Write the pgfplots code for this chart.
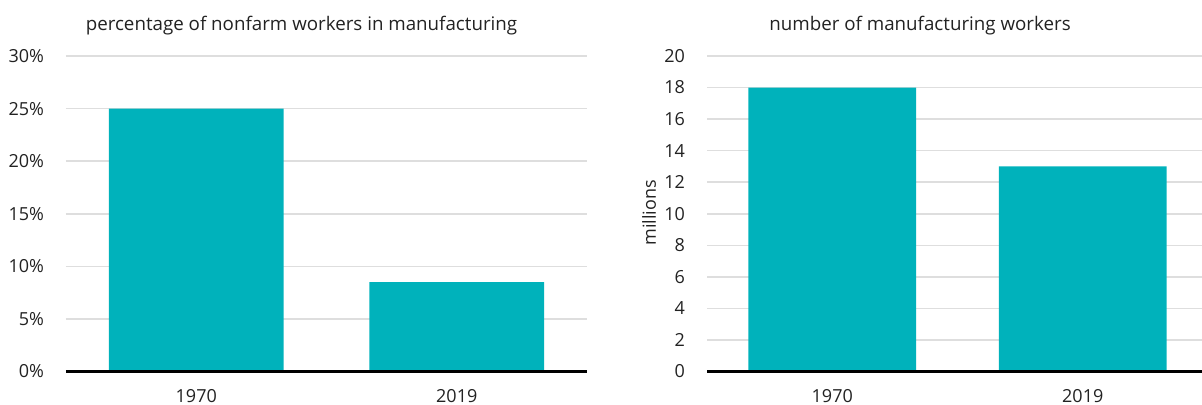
\documentclass[border=0pt]{standalone}
\usepackage{pgfplots}
\pgfplotsset{compat=1.18}
\usepackage{fontspec}
\setmainfont{Open Sans}
\definecolor{barc}{HTML}{00B2BB}
\definecolor{txt}{HTML}{222222}
\definecolor{gridc}{HTML}{DEDEDE}
\begin{document}
\begin{tikzpicture}[x=1pt,y=1pt]
\useasboundingbox (0,0) rectangle (601,202);
\pgfplotsset{
  mystyle/.style={
    scale only axis,
    height=157.75pt,
    ybar,
    bar width=0.67,
    ymin=0,
    xmin=-0.5,
    xtick={0,1}, xticklabels={1970,2019},
    axis line style={draw=none},
    major tick length=0pt,
    ymajorgrids,
    grid style={gridc, line width=0.8pt},
    tick label style={text=txt, font=\fontsize{9}{11}\selectfont},
    yticklabel style={anchor=east, xshift=-7.5pt},
    xticklabel style={anchor=north, yshift=-5.25pt},
    clip=false,
  }
}
% left chart
\begin{axis}[mystyle,
  at={(33pt,16.25pt)}, anchor=south west,
  width=260.5pt, xmax=1.5,
  ymax=30, ytick={0,5,10,15,20,25,30},
  yticklabels={0\%,5\%,10\%,15\%,20\%,25\%,30\%}]
\addplot[fill=barc, draw=none] coordinates {(0,25) (1,8.5)};
\draw[black, line width=1.5pt] (rel axis cs:0,0) -- (rel axis cs:1,0);
\end{axis}
% right chart
\begin{axis}[mystyle,
  at={(353.5pt,16.25pt)}, anchor=south west,
  width=247.5pt, xmax=1.476,
  ymax=20, ytick={0,2,4,6,8,10,12,14,16,18,20},
  yticklabels={0,2,4,6,8,10,12,14,16,18,20}]
\addplot[fill=barc, draw=none] coordinates {(0,18) (1,13)};
\draw[black, line width=1.5pt] (rel axis cs:0,0) -- (rel axis cs:1,0);
\end{axis}
\node[anchor=base, text=txt, font=\fontsize{9.37}{11}\selectfont] at (150.75,187) {percentage of nonfarm workers in manufacturing};
\node[anchor=base, text=txt, font=\fontsize{9.37}{11}\selectfont] at (460,187) {number of manufacturing workers};
\node[rotate=90, text=txt, font=\fontsize{9}{11}\selectfont] at (324.5,95.5) {millions};
\end{tikzpicture}
\end{document}
